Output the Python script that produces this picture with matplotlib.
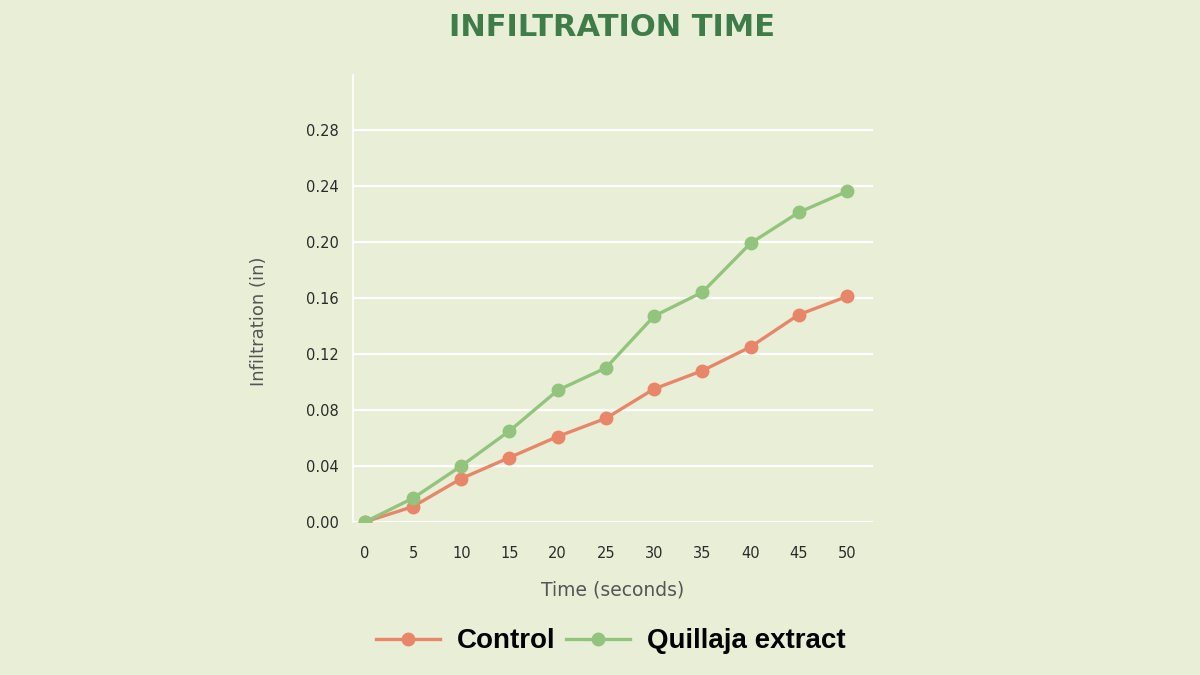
import matplotlib.pyplot as plt
from matplotlib.lines import Line2D

# data
time_s = [0, 5, 10, 15, 20, 25, 30, 35, 40, 45, 50]
control = [0.0, 0.011, 0.031, 0.046, 0.061, 0.074, 0.095, 0.108, 0.125, 0.148, 0.161]
quillaja = [0.0, 0.017, 0.040, 0.065, 0.094, 0.110, 0.147, 0.164, 0.199, 0.221, 0.236]
y_ticks = [0.00, 0.04, 0.08, 0.12, 0.16, 0.20, 0.24, 0.28]

bg = '#e9efd6'
red = '#e8866a'
green = '#93c47d'

fig = plt.figure(figsize=(12, 6.75), dpi=100, facecolor=bg)
ax = fig.add_axes([0.294, 0.2267, 0.4335, 0.662])
ax.set_facecolor(bg)

ax.plot(time_s, control, color=red, lw=2.4, marker='o', ms=9, label='Control', zorder=3)
ax.plot(time_s, quillaja, color=green, lw=2.4, marker='o', ms=9, label='Quillaja extract', zorder=4)

ax.set_xlim(-1.25, 52.7)
ax.set_ylim(0, 0.319)
ax.set_xticks(time_s)
ax.set_yticks(y_ticks)
ax.set_yticklabels([f'{v:.2f}' for v in y_ticks])
ax.tick_params(length=0, labelsize=10.5, labelcolor='#2b2b2b')
ax.tick_params(axis='x', pad=17)
ax.tick_params(axis='y', pad=10)
for lab in ax.get_xticklabels() + ax.get_yticklabels():
    lab.set_fontfamily('DejaVu Sans')

ax.grid(axis='y', color='white', lw=1.6)
ax.set_axisbelow(True)
for s in ['top', 'right', 'bottom']:
    ax.spines[s].set_visible(False)
ax.spines['left'].set_color('white')
ax.spines['left'].set_linewidth(1.2)

ax.set_xlabel('Time (seconds)', family='DejaVu Sans', fontsize=13.5, color='#555555')
ax.set_ylabel('Infiltration (in)', family='DejaVu Sans', fontsize=13, color='#555555')
ax.xaxis.set_label_coords(0.5, -0.132)
ax.yaxis.set_label_coords(-0.163, 0.45)

fig.text(0.51, 0.96, 'INFILTRATION TIME', ha='center', va='center',
         family='DejaVu Sans', weight='bold', fontsize=22, color='#3e7c4a')

handles = [Line2D([], [], color=red, lw=2.4, marker='o', ms=9),
           Line2D([], [], color=green, lw=2.4, marker='o', ms=9)]
fig.legend(handles, ['Control', 'Quillaja extract'], loc='center', bbox_to_anchor=(0.509, 0.05),
           ncol=2, frameon=False, handlelength=2.3, handletextpad=0.6, columnspacing=0.4,
           prop={'family': 'Liberation Sans', 'weight': 'bold', 'size': 20})

fig.savefig('out.png', dpi=100, facecolor=bg)
